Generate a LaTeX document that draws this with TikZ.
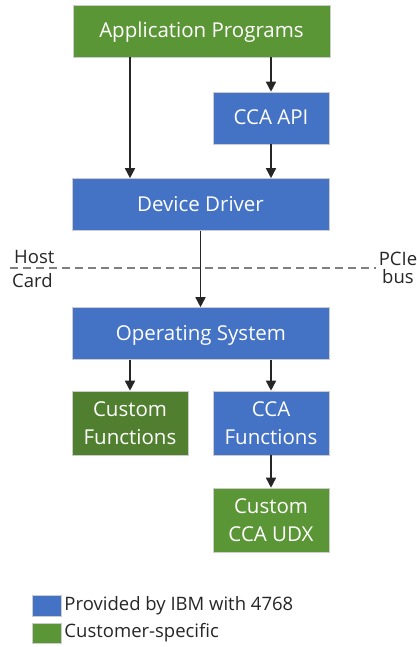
\documentclass[tikz,border=0pt]{standalone}
\usepackage{fontspec}
\setmainfont{Open Sans}
\usepackage{tikz}
\usetikzlibrary{arrows.meta}

\definecolor{ibmblue}{HTML}{4472C4}
\definecolor{custgreen}{HTML}{5B9636}
\definecolor{darkgreen}{HTML}{507F2F}
\definecolor{arrowgray}{HTML}{262626}

\begin{document}
\begin{tikzpicture}[x=1pt,y=-1pt,
		font=\fontsize{18.5}{21}\selectfont,
		block/.style={draw=gray!40,line width=0.6pt,text=white,align=center,inner sep=0pt,
			font=\fontsize{20.5}{27.5}\selectfont},
		oneline/.style={block,text height=16pt,text depth=2pt,minimum height=52pt},
		wide/.style={oneline,minimum width=257pt},
		small/.style={block,minimum width=116pt,minimum height=64pt},
		arr/.style={draw=arrowgray,line width=1.6pt,-{Triangle[width=10pt,length=10pt]}},
		sidelabel/.style={inner sep=0pt,text=black!85}]
				\useasboundingbox (0,0) rectangle (417,647);
				% host side
				\node[wide,fill=custgreen] (app) at (201.5,31) {Application Programs};
				\node[oneline,fill=ibmblue,minimum width=116pt] (api) at (271,118) {CCA API};
				\node[wide,fill=ibmblue] (drv) at (200.5,204.5) {Device Driver};
				% card side
				\node[wide,fill=ibmblue] (os) at (201,333.5) {Operating System};
				\node[small,fill=darkgreen] (cust) at (130,423) {Custom\\Functions};
				\node[small,fill=ibmblue] (ccafn) at (271,423) {CCA\\Functions};
				\node[small,fill=custgreen] (udx) at (271,520) {Custom\\CCA UDX};
				% PCIe boundary
				\coordinate (busl) at (10,268);
				\coordinate (busr) at (376,268);
				\draw[gray,line width=1.8pt,dash pattern=on 8pt off 5pt] (busl) -- (busr);
				\node[sidelabel,anchor=base west] (host) at (14,263) {Host};
				\node[sidelabel,anchor=base west] (card) at (12,287) {Card};
				\node[sidelabel,anchor=base] (pcie) at (398,265) {PCIe};
				\node[sidelabel,anchor=base] (bus) at (398,283) {bus};
				% connectors
				\draw[arr] (app.south -| cust.north) -- (drv.north -| cust.north);
				\draw[arr] (app.south -| api.north) -- (api.north);
				\draw[arr] (api.south) -- (drv.north -| api.south);
				\draw[arr] (drv.south) -- (os.north -| drv.south);
				\draw[arr] (os.south -| cust.north) -- (cust.north);
				\draw[arr] (os.south -| ccafn.north) -- (ccafn.north);
				\draw[arr] (ccafn.south) -- (udx.north);
				% legend
				\node[draw=gray!40,fill=ibmblue,minimum width=29pt,minimum height=21pt,inner sep=0pt] (keyibm) at (46.5,605.5) {};
				\node[draw=gray!40,fill=custgreen,minimum width=29pt,minimum height=20pt,inner sep=0pt] (keycust) at (46.5,633) {};
				\node[sidelabel,anchor=west] (ibmtext) at (keyibm.east) {\,Provided by IBM with 4768};
				\node[sidelabel,anchor=west] (custtext) at (keycust.east) {\,Customer-specific};
			\end{tikzpicture}
\end{document}
